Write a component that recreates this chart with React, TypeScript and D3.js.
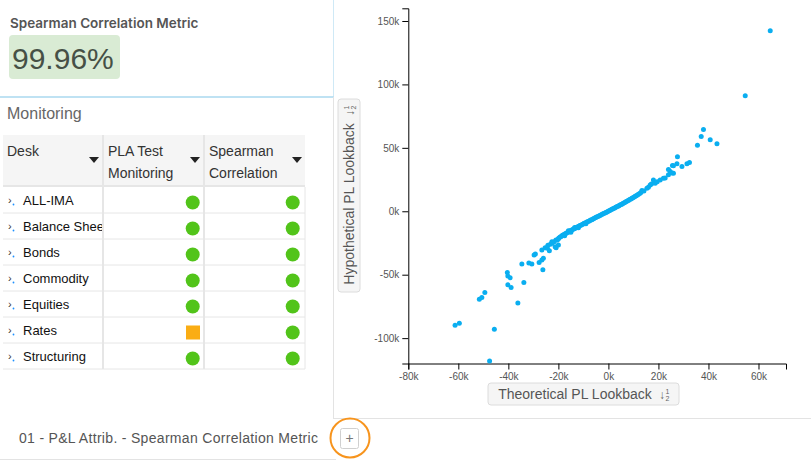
import React, { useEffect, useRef } from "react";
import * as d3 from "d3";

// ---------- data ----------
const metricTitle = "Spearman Correlation Metric";
const metricValue = "99.96%";

const desks = ["ALL-IMA", "Balance Sheet", "Bonds", "Commodity", "Equities", "Rates", "Structuring"];
const plaStatus = ["green", "green", "green", "green", "green", "amber", "green"];
const spearmanStatus = ["green", "green", "green", "green", "green", "green", "green"];
const tableHeaders = [["Desk"], ["PLA Test", "Monitoring"], ["Spearman", "Correlation"]];

const xTicks = [-80000, -60000, -40000, -20000, 0, 20000, 40000, 60000];
const yTicks = [-100000, -50000, 0, 50000, 100000, 150000];
const xDomain = [-80000, 71000];
const yDomain = [-120000, 160000];

// theoretical PL (k), hypothetical PL (k) — main diagonal band
const mainBand: [number, number][] = [
  [-21.0, -22.6], [-20.4, -22.7], [-20.0, -21.6], [-19.8, -21.0], [-19.3, -20.2], [-18.9, -19.9],
  [-18.4, -19.0], [-18.0, -18.8], [-17.6, -18.1], [-17.5, -19.2], [-17.1, -17.6], [-16.7, -17.2],
  [-16.2, -16.5], [-16.0, -15.4], [-15.8, -16.1], [-15.3, -15.4], [-15.0, -16.6], [-14.9, -15.1],
  [-14.5, -14.6], [-14.0, -14.0], [-13.6, -13.7], [-13.5, -12.8], [-13.1, -13.1], [-12.7, -12.8],
  [-12.3, -12.2], [-12.0, -13.0], [-11.8, -11.9], [-11.4, -11.3], [-11.0, -11.0], [-10.5, -10.4],
  [-10.1, -10.1], [-9.7, -9.5], [-9.2, -9.2], [-9.0, -9.8], [-8.8, -8.6], [-8.4, -8.3],
  [-7.9, -7.8], [-7.5, -7.4], [-7.1, -6.9], [-6.6, -6.6], [-6.2, -6.0], [-5.8, -5.7],
  [-5.3, -5.2], [-4.9, -4.8], [-4.5, -4.3], [-4.0, -4.0], [-3.6, -3.5], [-3.2, -3.1],
  [-2.7, -2.6], [-2.3, -2.2], [-1.9, -1.8], [-1.4, -1.3], [-1.0, -0.9], [-0.6, -0.5],
  [-0.1, 0.0], [0.3, 0.4], [0.7, 0.8], [1.2, 1.3], [1.6, 1.7], [2.0, 2.2],
  [2.5, 2.6], [2.9, 3.1], [3.3, 3.5], [3.8, 4.0], [4.2, 4.4], [4.6, 4.9],
  [5.1, 5.4], [5.5, 5.8], [5.9, 6.3], [6.4, 6.8], [6.8, 7.3], [7.2, 7.7],
  [7.7, 8.2], [8.1, 8.7], [8.5, 9.2], [9.0, 9.7], [9.4, 10.2], [9.8, 10.7],
  [10.3, 11.3], [10.7, 11.8], [11.1, 12.3], [11.6, 12.9], [12.0, 13.5], [12.5, 14.1],
  [13.0, 14.8], [13.4, 16.3], [14.2, 15.9], [15.4, 18.2], [16.0, 19.0], [16.7, 20.8],
  [17.2, 21.5], [18.0, 24.7], [18.7, 22.1], [19.5, 23.2], [20.7, 24.7], [22.0, 26.0],
  [22.7, 26.2], [24.0, 28.7], [24.7, 31.3], [25.4, 30.1], [26.0, 30.0],
];

// scattered observations away from the band
const outliers: [number, number][] = [
  [64.7, 142.4], [54.7, 91.1], [38.0, 64.5], [37.1, 58.9], [40.7, 56.3], [35.6, 52.1],
  [43.4, 53.2], [27.6, 42.9], [25.6, 36.0], [27.4, 37.4], [29.4, 35.2], [31.4, 37.4],
  [32.4, 38.4], [24.0, 32.9], [26.0, 35.9],
  [-47.5, -118.0], [-61.3, -89.8], [-59.6, -88.2], [-45.6, -93.0], [-51.6, -69.3],
  [-50.6, -67.9], [-49.4, -64.0], [-36.2, -72.4], [-40.4, -48.2], [-40.2, -51.1],
  [-39.3, -52.4], [-40.2, -58.0], [-38.9, -60.0], [-33.8, -56.1], [-34.6, -41.6],
  [-31.8, -40.8], [-30.6, -41.6], [-26.2, -46.1], [-27.7, -40.3], [-26.6, -38.5],
  [-26.0, -37.1], [-29.7, -34.5], [-29.2, -33.7], [-26.6, -30.6], [-25.3, -28.7],
  [-24.4, -29.2], [-23.6, -31.1], [-22.6, -25.3], [-21.7, -24.0], [-20.9, -28.7],
  [-20.0, -26.6], [-22.6, -24.0], [-21.3, -28.0], [-23.2, -26.0], [-24.2, -26.8],
];

// ---------- styles ----------
const FONT = "'Liberation Sans', Arial, Helvetica, sans-serif";
const DOT = "#0aaef0";
const GREEN = "#52c41a";
const AMBER = "#faad14";

function SortIcon({ x, y }: { x: number; y: number }) {
  return (
    <g transform={`translate(${x},${y})`} fill="#666" fontFamily={FONT}>
      <text x={0} y={5} fontSize={12}>↓</text>
      <text x={6.5} y={-0.5} fontSize={7}>1</text>
      <text x={6.5} y={6.5} fontSize={7}>2</text>
    </g>
  );
}

export default function App() {
  const xAxisRef = useRef<SVGGElement>(null);
  const yAxisRef = useRef<SVGGElement>(null);

  const x = d3.scaleLinear().domain(xDomain).range([408.3, 786]);
  const y = d3.scaleLinear().domain(yDomain).range([363.5, 8.3]);
  const fmt = (d: d3.NumberValue) => `${Math.round(+d / 1000)}k`;

  useEffect(() => {
    const xa = d3.axisBottom(x).tickValues(xTicks).tickFormat(fmt).tickSize(6);
    const ya = d3.axisLeft(y).tickValues(yTicks).tickFormat(fmt).tickSize(6);
    const gx = d3.select(xAxisRef.current!).call(xa as any);
    const gy = d3.select(yAxisRef.current!).call(ya as any);
    [gx, gy].forEach((g) => {
      g.selectAll("text").attr("fill", "#555").style("font-size", "10px").style("font-family", FONT);
      g.select(".domain").attr("stroke", "#000");
      g.selectAll(".tick line").attr("stroke", "#000");
    });
  }, []);

  const rowTop = 187;
  const rowH = 26;
  const colX = [3, 104, 205];
  const colW = [99, 99, 100];

  const allPoints = [...mainBand, ...outliers];

  return (
    <svg
      width={811}
      height={463}
      style={{ position: "absolute", left: 0, top: 0, background: "#fff" }}
      fontFamily={FONT}
    >
      <defs>
        <clipPath id="deskClip">
          <rect x={3} y={rowTop} width={99} height={rowH * 7} />
        </clipPath>
      </defs>
      <rect x={0} y={0} width={811} height={463} fill="#fff" />

      {/* metric card */}
      <line x1={333.5} y1={0} x2={333.5} y2={97} stroke="#cfe9f6" />
      <line x1={0} y1={97} x2={334} y2={97} stroke="#bfe2f3" strokeWidth={2} />
      <text x={10} y={28} fontSize={13.5} fontWeight={600} fill="#555" fontFamily="Inter, sans-serif">
        {metricTitle}
      </text>
      <rect x={9} y={35} width={111} height={44} rx={4} fill="#d9ebd4" />
      <text x={12} y={69} fontSize={30} fill="#465046">
        {metricValue}
      </text>

      {/* monitoring table */}
      <text x={7} y={119} fontSize={16} fill="#666">Monitoring</text>
      <rect x={3} y={135} width={302} height={51} fill="#f5f5f5" />
      {tableHeaders.map((lines, i) => (
        <g key={`h${i}`}>
          {lines.map((ln, j) => (
            <text key={j} x={colX[i] + 4} y={156 + j * 22} fontSize={14} fill="#333">
              {ln}
            </text>
          ))}
          <path d={`M${colX[i] + colW[i] - 13},${157} l10,0 l-5,6 z`} fill="#222" />
        </g>
      ))}
      {[103, 204].map((cx) => (
        <line key={cx} x1={cx} y1={135} x2={cx} y2={rowTop + rowH * 7} stroke="#e6e6e6" strokeWidth={2} />
      ))}
      <line x1={3} y1={186} x2={305} y2={186} stroke="#e6e6e6" strokeWidth={2} />
      {desks.map((d, i) => {
        const ty = rowTop + i * rowH;
        const cy = ty + 15.5;
        return (
          <g key={d}>
            <line x1={3} y1={ty + rowH} x2={305} y2={ty + rowH} stroke="#e6e6e6" />
            <text x={8} y={ty + 17} fontSize={11} fill="#333">›</text>
            <circle cx={13.5} cy={ty + 17.5} r={0.9} fill="#1e90ff" />
            <text x={23} y={ty + 18} fontSize={13} fill="#111" clipPath="url(#deskClip)">
              {d}
            </text>
            {plaStatus[i] === "green" ? (
              <circle cx={192.7} cy={cy} r={7} fill={GREEN} />
            ) : (
              <rect x={186} y={cy - 7} width={14} height={14} fill={AMBER} />
            )}
            {spearmanStatus[i] === "green" ? (
              <circle cx={292.7} cy={cy} r={7} fill={GREEN} />
            ) : (
              <rect x={286} y={cy - 7} width={14} height={14} fill={AMBER} />
            )}
          </g>
        );
      })}
      <line x1={305} y1={rowTop} x2={305} y2={rowTop + rowH * 7} stroke="#e6e6e6" />

      {/* panel dividers */}
      <line x1={333.5} y1={97} x2={333.5} y2={418} stroke="#e3e3e3" />
      <line x1={333} y1={418.5} x2={811} y2={418.5} stroke="#e3e3e3" />
      <line x1={0} y1={459.5} x2={336} y2={459.5} stroke="#e3e3e3" />

      {/* scatter */}
      <g ref={yAxisRef} transform={`translate(${x(xDomain[0])},0)`} />
      <g ref={xAxisRef} transform={`translate(0,${y(yDomain[0])})`} />
      <g fill={DOT}>
        {allPoints.map(([px, py], i) => (
          <circle key={i} cx={x(px * 1000)} cy={y(py * 1000)} r={2.5} />
        ))}
      </g>

      {/* y label button */}
      <g>
        <rect x={338} y={99} width={22} height={193} rx={3} fill="#f5f5f5" stroke="#dcdcdc" />
        <g transform="translate(354,196) rotate(-90)">
          <text x={-8} y={0} textAnchor="middle" fontSize={14} fill="#555">
            Hypothetical PL Lookback
          </text>
          <SortIcon x={80} y={-5} />
        </g>
      </g>

      {/* x label button */}
      <g>
        <rect x={488} y={383} width={191} height={22} rx={3} fill="#f5f5f5" stroke="#dcdcdc" />
        <text x={575} y={399} textAnchor="middle" fontSize={14} fill="#555">
          Theoretical PL Lookback
        </text>
        <SortIcon x={659} y={394} />
      </g>

      {/* bottom tab */}
      <text x={19} y={443} fontSize={14} fill="#555" textLength={299} lengthAdjust="spacing">
        01 - P&amp;L Attrib. - Spearman Correlation Metric
      </text>
      <rect x={340.5} y={428.5} width={18} height={20} rx={2} fill="#fff" stroke="#d0d0d0" />
      <text x={349.5} y={443} textAnchor="middle" fontSize={14} fill="#777">+</text>
      <circle cx={350} cy={438} r={19.5} fill="none" stroke="#f7941d" strokeWidth={2} />
    </svg>
  );
}
